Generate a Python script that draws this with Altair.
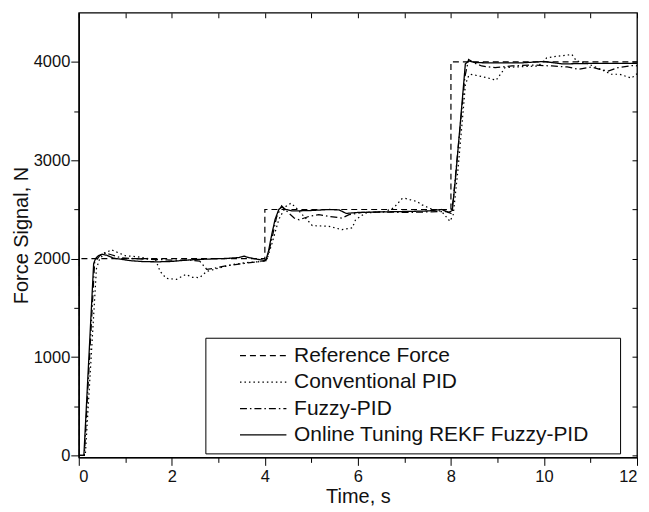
import altair as alt
import pandas as pd

series_names = ["Reference Force", "Conventional PID", "Fuzzy-PID", "Online Tuning REKF Fuzzy-PID"]

ref_t = [0, 0, 4, 4, 8, 8, 12]
ref_f = [0, 2000, 2000, 2500, 2500, 4000, 4000]

pid_t = [0, 0.14, 0.38, 0.45, 0.55, 0.7, 0.85, 1.0, 1.25, 1.5, 1.65, 1.75, 1.88, 2.1, 2.3, 2.45,
         2.6, 2.75, 3.05, 3.3, 3.6, 3.9, 4.05, 4.15, 4.3, 4.45, 4.56, 4.66, 4.8, 4.92, 5.02, 5.38,
         5.66, 5.88, 5.95, 6.16, 6.59, 6.77, 6.95, 7.0, 7.27, 7.38, 7.55, 7.8, 7.98, 8.05, 8.15,
         8.27, 8.31, 8.38, 8.42, 8.6, 8.81, 8.97, 9.09, 9.16, 9.4, 9.88, 10.06, 10.3, 10.48, 10.6,
         10.7, 10.9, 11.1, 11.3, 11.45, 11.63, 11.88, 12]
pid_f = [0, 0, 1900, 2000, 2050, 2090, 2060, 2030, 2020, 2000, 1990, 1870, 1800, 1790, 1840, 1810,
         1808, 1870, 1910, 1940, 1960, 1970, 2000, 2150, 2400, 2530, 2564, 2524, 2450, 2390, 2336, 2329,
         2295, 2313, 2396, 2464, 2480, 2517, 2610, 2615, 2581, 2547, 2510, 2480, 2380, 2450, 2900,
         3540, 3770, 3858, 3875, 3858, 3835, 3814, 3891, 3942, 3950, 3959, 4042, 4059, 4069, 4076,
         4010, 3990, 3950, 3908, 3875, 3875, 3835, 3880]

fuzzy_t = [0, 0.12, 0.34, 0.45, 0.55, 0.7, 0.9, 1.2, 1.5, 1.8, 2.1, 2.4, 2.6, 2.75, 2.9, 3.13,
           3.56, 3.99, 4.05, 4.15, 4.25, 4.36, 4.5, 4.63, 4.74, 4.95, 5.16, 5.38, 5.66, 5.81, 6.09,
           6.5, 7.0, 7.5, 7.9, 8.0, 8.05, 8.15, 8.3, 8.38, 8.5, 8.66, 8.95, 9.31, 9.74, 10.17, 10.5,
           10.74, 11.02, 11.2, 11.38, 11.59, 11.95, 12]
fuzzy_f = [0, 0, 1960, 2030, 2060, 2040, 2010, 2000, 1995, 1990, 1985, 1985, 1975, 1892, 1900, 1925,
           1952, 1976, 2000, 2200, 2420, 2537, 2470, 2413, 2396, 2430, 2447, 2430, 2413, 2447, 2470,
           2475, 2470, 2475, 2480, 2460, 2600, 3100, 3850, 4026, 3990, 3959, 3942, 3959, 3969, 3959, 3950,
           3925, 3948, 3925, 3908, 3942, 3966, 3960]

rekf_t = [0, 0.11, 0.32, 0.36, 0.42, 0.5, 0.6, 0.75, 0.9, 1.1, 1.4, 1.7, 2.0, 2.3, 2.6, 2.9, 3.2,
          3.45, 3.55, 3.65, 3.85, 4.02, 4.08, 4.15, 4.22, 4.3, 4.36, 4.45, 4.6, 5.0, 5.4, 5.6, 5.75,
          6.0, 6.5, 7.0, 7.5, 7.8, 7.95, 8.03, 8.1, 8.2, 8.31, 8.38, 8.5, 8.8, 9.5, 10.0, 10.4, 11.0,
          11.5, 12]
rekf_f = [0, 0, 1950, 2000, 2030, 2045, 2035, 2005, 1995, 1980, 1970, 1968, 1972, 1985, 1993, 1998, 2003,
          2012, 2026, 2012, 1993, 1980, 2080, 2250, 2400, 2500, 2525, 2500, 2485, 2490, 2500, 2495, 2460,
          2470, 2475, 2480, 2485, 2500, 2470, 2490, 2830, 3370, 3980, 4010, 3995, 3990, 3990, 4005, 3980, 3985,
          3985, 3985]

rows = []
for name, ts, fs in zip(series_names, [ref_t, pid_t, fuzzy_t, rekf_t], [ref_f, pid_f, fuzzy_f, rekf_f]):
    for i, (t, f) in enumerate(zip(ts, fs)):
        rows.append({"series": name, "t": t, "f": f, "order": i})
df = pd.DataFrame(rows)

FONT = "Liberation Sans"
x_ticks = list(range(0, 13))
y_ticks = list(range(0, 4001, 500))

x_scale = alt.Scale(domain=[0, 12], nice=False, zero=False)
y_scale = alt.Scale(domain=[-20, 4500], nice=False, zero=False)

major_x = {"condition": {"test": "datum.value % 2 === 0", "value": 8}, "value": 5}
major_y = {"condition": {"test": "datum.value % 1000 === 0", "value": 8}, "value": 5}

# trailing blank room inside the legend box (kept from being trimmed by a zero-width char)
PAD = "\u00a0" * 4 + "\u200b"
legend_kw = dict(title=None, orient="none", legendX=127, legendY=326,
                 symbolType="stroke", symbolSize=2170, clipHeight=20,
                 symbolOffset=26, labelOffset=7, rowPadding=5.5,
                 padding=8, strokeColor="black", fillColor="white",
                 symbolStrokeColor="black", labelLimit=700,
                 labelExpr="datum.label + '" + PAD + "'")

lines = alt.Chart(df).mark_line(color="black", clip=True).encode(
    x=alt.X("t:Q", scale=x_scale, title="Time, s",
            axis=alt.Axis(values=x_ticks, format="d",
                          labelExpr="datum.value % 2 === 0 ? datum.label : ''",
                          tickSize=major_x, labelPadding=3, titlePadding=2)),
    y=alt.Y("f:Q", scale=y_scale, title="Force Signal, N",
            axis=alt.Axis(values=y_ticks, format="d",
                          labelExpr="datum.value % 1000 === 0 ? datum.label : ''",
                          tickSize=major_y, labelPadding=1, titlePadding=2)),
    order="order:Q",
    strokeDash=alt.StrokeDash("series:N", scale=alt.Scale(domain=series_names,
                              range=[[6, 4], [1.5, 3], [7, 3, 1.5, 3], [1, 0]]),
                              legend=alt.Legend(**legend_kw)),
    strokeWidth=alt.StrokeWidth("series:N", scale=alt.Scale(domain=series_names, range=[1.2, 1.3, 1.2, 2.4]),
                                legend=alt.Legend(**legend_kw)),
)

frame = alt.Chart(df).mark_line(opacity=0).encode(
    x=alt.X("t:Q", scale=x_scale, title=None,
            axis=alt.Axis(orient="top", values=x_ticks, labels=False, domain=False, tickSize=5, offset=-5)),
    y=alt.Y("f:Q", scale=y_scale, title=None,
            axis=alt.Axis(orient="right", values=y_ticks, labels=False, domain=False, tickSize=5, offset=-5)),
    detail="series:N",
)

chart = alt.layer(lines, frame).resolve_scale(x="independent", y="independent").properties(
    width=560, height=446,
    padding={"left": 71, "top": 4, "right": 4, "bottom": 50},
    autosize=alt.AutoSizeParams(type="none"),
).configure_view(stroke="black", strokeWidth=1.3).configure_axis(
    grid=False, domainColor="black", domainWidth=1.3, tickColor="black", tickWidth=1,
    labelFont=FONT, labelFontSize=16.5, labelColor="#111", titleFont=FONT, titleFontSize=20,
    titleFontWeight="normal", titleColor="#111"
).configure_legend(labelFont=FONT, labelFontSize=21, labelColor="#111")

chart.save("out.html", embed_options={"renderer": "svg", "actions": False})
